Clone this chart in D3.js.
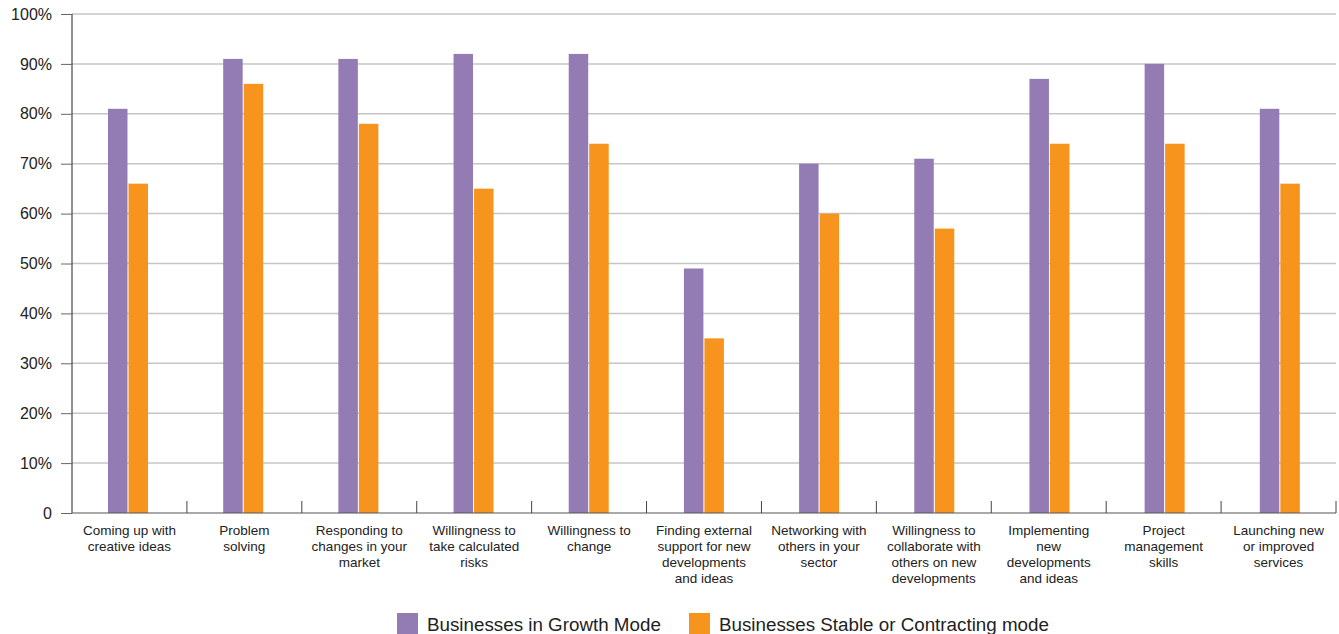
<!DOCTYPE html>
<html>
<head>
<meta charset="utf-8">
<script src="https://cdn.jsdelivr.net/npm/d3@7"></script>
<style>
  body { margin: 0; background: #fff; }
  svg text { font-family: "Liberation Sans", Arial, Helvetica, sans-serif; fill: #222; }
</style>
</head>
<body>
<svg width="1339" height="634"></svg>
<script>
// categories, wrapped the way the source prints them
const categories = [
  ["Coming up with", "creative ideas"],
  ["Problem", "solving"],
  ["Responding to", "changes in your", "market"],
  ["Willingness to", "take calculated", "risks"],
  ["Willingness to", "change"],
  ["Finding external", "support for new", "developments", "and ideas"],
  ["Networking with", "others in your", "sector"],
  ["Willingness to", "collaborate with", "others on new", "developments"],
  ["Implementing", "new", "developments", "and ideas"],
  ["Project", "management", "skills"],
  ["Launching new", "or improved", "services"]
]
const seriesNames = ["Businesses in Growth Mode", "Businesses Stable or Contracting mode"]
const growth = [81, 91, 91, 92, 92, 49, 70, 71, 87, 90, 81]
const stable = [66, 86, 78, 65, 74, 35, 60, 57, 74, 74, 66]
const yTicks = [0, 10, 20, 30, 40, 50, 60, 70, 80, 90, 100]
const colors = ["#937cb3", "#f7941d"]

const svg = d3.select('svg')
const plotLeft = 72, plotRight = 1336, plotTop = 14, plotBottom = 513

const keys = categories.map((c, i) => 'c' + i)

// category bands (separators / labels)
const xScale = d3.scaleBand()
  .domain(keys)
  .range([plotLeft, plotRight])
  .padding(0)

// bars sit on a very slightly wider step in the source
const barScale = d3.scaleBand()
  .domain(keys)
  .range([plotLeft, plotRight + 3])
  .padding(0)

const xSub = d3.scaleBand()
  .domain(seriesNames)
  .range([36, 76])
  .paddingInner(0.05)

const yScale = d3.scaleLinear()
  .domain([0, 100])
  .range([plotBottom, plotTop])

// gridlines
svg.append('g')
  .selectAll('line')
  .data(yTicks.filter(d => d > 0))
  .enter()
  .append('line')
  .attr('x1', plotLeft)
  .attr('x2', plotRight)
  .attr('y1', d => yScale(d))
  .attr('y2', d => yScale(d))
  .attr('stroke', '#c6c6c6')
  .attr('stroke-width', 1.5)

// y axis
const yAxis = svg.append('g')
  .attr('transform', `translate(${plotLeft}, 0)`)
  .call(d3.axisLeft(yScale)
    .tickValues(yTicks)
    .tickSize(11)
    .tickPadding(9)
    .tickFormat(d => d === 0 ? '0' : d + '%'))
yAxis.select('.domain').attr('stroke', '#222').attr('d', `M0,${plotTop}V${plotBottom}`)
yAxis.selectAll('.tick line').attr('stroke', '#666')
yAxis.selectAll('.tick text')
  .style('font-size', '16px')
  .style('font-family', '"Liberation Sans", Arial, sans-serif')
  .attr('fill', '#222')

// bars
const groups = svg.append('g')
  .selectAll('g')
  .data(keys.map((k, i) => ({ key: k, vals: [growth[i], stable[i]] })))
  .enter()
  .append('g')
  .attr('transform', d => `translate(${barScale(d.key)}, 0)`)

groups.selectAll('rect')
  .data(d => d.vals.map((v, j) => ({ name: seriesNames[j], v: v, j: j })))
  .enter()
  .append('rect')
  .attr('x', d => xSub(d.name))
  .attr('width', xSub.bandwidth())
  .attr('y', d => yScale(d.v))
  .attr('height', d => plotBottom - yScale(d.v))
  .attr('fill', d => colors[d.j])

// baseline
svg.append('line')
  .attr('x1', plotLeft).attr('x2', plotRight)
  .attr('y1', plotBottom).attr('y2', plotBottom)
  .attr('stroke', '#555').attr('stroke-width', 1.2)

// category separators on the x axis
const bounds = keys.map(k => xScale(k) + xScale.bandwidth())
svg.append('g')
  .selectAll('line')
  .data(bounds)
  .enter()
  .append('line')
  .attr('x1', d => d).attr('x2', d => d)
  .attr('y1', plotBottom - 12).attr('y2', plotBottom)
  .attr('stroke', '#444')
  .attr('stroke-width', 1)

// category labels
const labels = svg.append('g')
  .selectAll('text')
  .data(categories)
  .enter()
  .append('text')
  .attr('text-anchor', 'middle')
  .style('font-size', '13.5px')
  .attr('transform', (d, i) => `translate(${xScale(keys[i]) + xScale.bandwidth() / 2}, 535)`)

labels.selectAll('tspan')
  .data(d => d)
  .enter()
  .append('tspan')
  .attr('x', 0)
  .attr('y', (d, i) => i * 16)
  .text(d => d)

// legend
const legendX = [397, 689]
const legend = svg.append('g')
  .selectAll('g')
  .data(seriesNames)
  .enter()
  .append('g')
  .attr('transform', (d, i) => `translate(${legendX[i]}, 613)`)

legend.append('rect')
  .attr('width', 21)
  .attr('height', 21)
  .attr('fill', (d, i) => colors[i])

legend.append('text')
  .attr('x', 30)
  .attr('y', 18)
  .style('font-size', '18.8px')
  .text(d => d)
</script>
</body>
</html>
